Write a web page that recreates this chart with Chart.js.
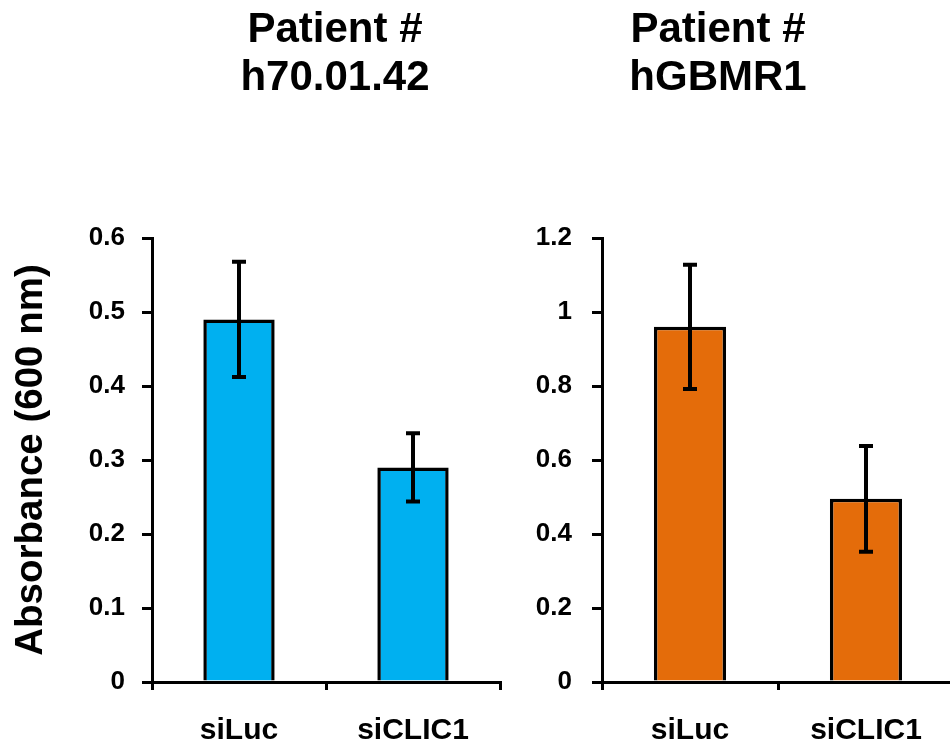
<!DOCTYPE html>
<html>
<head>
<meta charset="utf-8">
<script src="https://cdn.jsdelivr.net/npm/chart.js@4.4.1/dist/chart.umd.min.js"></script>
<style>
  html, body { margin: 0; padding: 0; background: #fff; overflow: hidden; }
  #wrap { position: relative; width: 950px; height: 745px; overflow: hidden; }
  #leftChart { position: absolute; left: 0; top: 0; }
  #rightChart { position: absolute; left: 482px; top: 0; }
</style>
</head>
<body>
<div id="wrap">
  <canvas id="leftChart" width="670" height="745"></canvas>
  <canvas id="rightChart" width="472" height="745"></canvas>
</div>
<script>
// data
var categories = ['siLuc', 'siCLIC1'];
var leftTitle = ['Patient #', 'h70.01.42'];
var rightTitle = ['Patient #', 'hGBMR1'];
var leftMeans = [0.49, 0.29];
var leftErr = [0.078, 0.046];
var rightMeans = [0.96, 0.495];
var rightErr = [0.168, 0.143];
var leftTicks = [0, 0.1, 0.2, 0.3, 0.4, 0.5, 0.6];
var rightTicks = [0, 0.2, 0.4, 0.6, 0.8, 1, 1.2];

var FONT = "'Liberation Sans', Arial, sans-serif";
Chart.defaults.color = '#000';
Chart.defaults.font.family = FONT;

// draws the error bars on top of each bar
const errorBars = {
  id: 'errorBars',
  afterDatasetsDraw(chart, args, opts) {
    const ctx = chart.ctx;
    const meta = chart.getDatasetMeta(0);
    const y = chart.scales.y;
    const means = chart.data.datasets[0].data;
    ctx.save();
    ctx.strokeStyle = '#000';
    ctx.lineWidth = 4;
    meta.data.forEach(function(bar, i) {
      var hi = y.getPixelForValue(means[i] + opts.err[i]);
      var lo = y.getPixelForValue(means[i] - opts.err[i]);
      ctx.beginPath();
      ctx.moveTo(bar.x, hi);
      ctx.lineTo(bar.x, lo);
      ctx.moveTo(bar.x - 7, hi);
      ctx.lineTo(bar.x + 7, hi);
      ctx.moveTo(bar.x - 7, lo);
      ctx.lineTo(bar.x + 7, lo);
      ctx.stroke();
    });
    ctx.restore();
  }
};

function makeChart(id, title, means, err, ticks, color, yWidth, yPad, showYTitle, rightPad) {
  var scales = {
    x: {
      grid: { drawOnChartArea: false, color: '#000', lineWidth: 3, tickLength: 8 },
      border: { color: '#000', width: 3 },
      ticks: { font: { size: 30, weight: 'bold' }, padding: 23 },
      afterFit: function(s) { s.height = 63; }
    },
    y: {
      min: 0,
      max: ticks[ticks.length - 1],
      afterBuildTicks: function(s) { s.ticks = ticks.map(function(v) { return { value: v }; }); },
      grid: { drawOnChartArea: false, color: '#000', lineWidth: 3, tickLength: 10 },
      border: { color: '#000', width: 3 },
      ticks: {
        font: { size: 26, weight: 'bold' },
        padding: yPad,
        callback: function(v) { return String(Number(v.toFixed(1))); }
      },
      title: {
        display: showYTitle,
        text: 'Absorbance (600 nm)',
        font: { size: 38.5, weight: 'bold' },
        padding: { top: 8, bottom: 0 }
      },
      afterFit: function(s) { s.width = yWidth; }
    }
  };
  if (rightPad) {
    // empty axis on the right so the title is centred over the whole panel
    scales.pad = {
      type: 'linear', position: 'right', display: true,
      grid: { display: false }, border: { display: false }, ticks: { display: false },
      afterFit: function(s) { s.width = rightPad; }
    };
  }
  return new Chart(document.getElementById(id), {
    type: 'bar',
    data: {
      labels: categories,
      datasets: [{
        data: means,
        backgroundColor: color,
        borderColor: '#000',
        borderWidth: 3.5,
        barPercentage: 0.41,
        categoryPercentage: 1
      }]
    },
    options: {
      responsive: false,
      animation: false,
      layout: { padding: 0 },
      scales: scales,
      plugins: {
        legend: { display: false },
        tooltip: { enabled: false },
        title: {
          display: true,
          text: title,
          color: '#000',
          font: { size: 42, weight: 'bold', lineHeight: 1.15 },
          padding: { top: 6, bottom: 135.4 }
        },
        errorBars: { err: err }
      }
    },
    plugins: [errorBars]
  });
}

makeChart('leftChart', leftTitle, leftMeans, leftErr, leftTicks, '#00B0F0', 152, 17, true, 170);
makeChart('rightChart', rightTitle, rightMeans, rightErr, rightTicks, '#E46C0A', 120, 20, false, 0);
</script>
</body>
</html>
